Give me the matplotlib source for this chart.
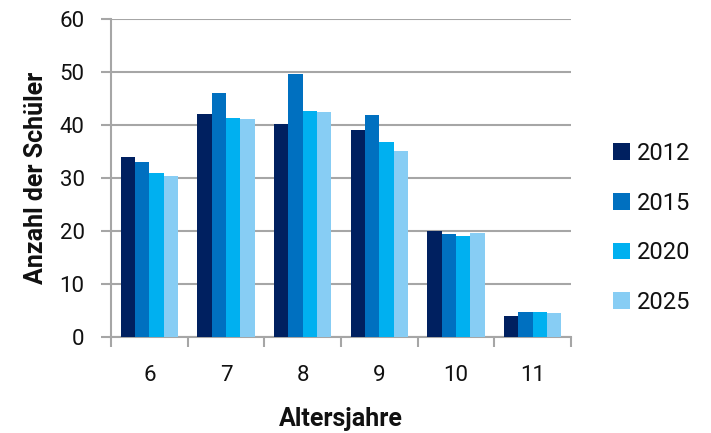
import matplotlib
matplotlib.use("Agg")
import matplotlib.pyplot as plt
import numpy as np

categories = ["6", "7", "8", "9", "10", "11"]
years = ["2012", "2015", "2020", "2025"]
v2012 = [34.0, 42.1, 40.1, 39.1, 20.0, 4.0]
v2015 = [33.1, 46.0, 49.6, 41.9, 19.5, 4.7]
v2020 = [31.0, 41.3, 42.6, 36.8, 19.1, 4.7]
v2025 = [30.4, 41.1, 42.4, 35.1, 19.6, 4.6]
series = [v2012, v2015, v2020, v2025]
colors = ["#002060", "#0070C0", "#00B0F0", "#87CDF4"]
yticks = [0, 10, 20, 30, 40, 50, 60]

plt.rcParams['font.family'] = ['Roboto', 'DejaVu Sans']
fig = plt.figure(figsize=(7.11, 4.33), dpi=100)
ax = fig.add_axes([111/711, 1-337/433, (571-111)/711, (337-19)/433])

x = np.arange(len(categories))
bw = 0.187
for i, (s, c, lab) in enumerate(zip(series, colors, years)):
    ax.bar(x + (i - 1.5) * bw, s, width=bw, color=c, label=lab, zorder=3)

ax.set_xlim(-0.5, len(categories) - 0.5)
ax.set_ylim(0, 60)
ax.set_yticks(yticks)
ax.set_yticklabels([str(t) for t in yticks])
ax.grid(axis='y', color='#A6A6A6', lw=1.5, zorder=0)
ax.set_axisbelow(True)

ax.set_xticks(x)
ax.set_xticklabels(categories)
ax.set_xticks(np.arange(-0.5, len(categories)), minor=True)
ax.tick_params(axis='x', which='major', length=0, pad=20, labelsize=16, labelcolor='#111111')
ax.tick_params(axis='x', which='minor', length=7, width=1.5, color='#A6A6A6')
ax.tick_params(axis='y', length=7, width=1.5, color='#A6A6A6', pad=12, labelsize=16, labelcolor='#111111')

for sp in ['top', 'right']:
    ax.spines[sp].set_visible(False)
for sp in ['left', 'bottom']:
    ax.spines[sp].set_color('#A6A6A6')
    ax.spines[sp].set_linewidth(1.5)

ax.set_xlabel("Altersjahre", fontsize=18, fontweight='bold', labelpad=15, color='#111111')
ax.set_ylabel("Anzahl der Schüler", fontsize=18, fontweight='bold', labelpad=8, color='#111111')

handles, labels = ax.get_legend_handles_labels()
leg = fig.legend(handles, labels, loc='center left', bbox_to_anchor=(613/711, 1-228/433),
                 frameon=False, fontsize=17, handlelength=0.7, handleheight=0.7,
                 handletextpad=0.3, labelspacing=1.13, borderpad=0, borderaxespad=0)
for t in leg.get_texts():
    t.set_color('#111111')

fig.savefig("out.png", dpi=100)
